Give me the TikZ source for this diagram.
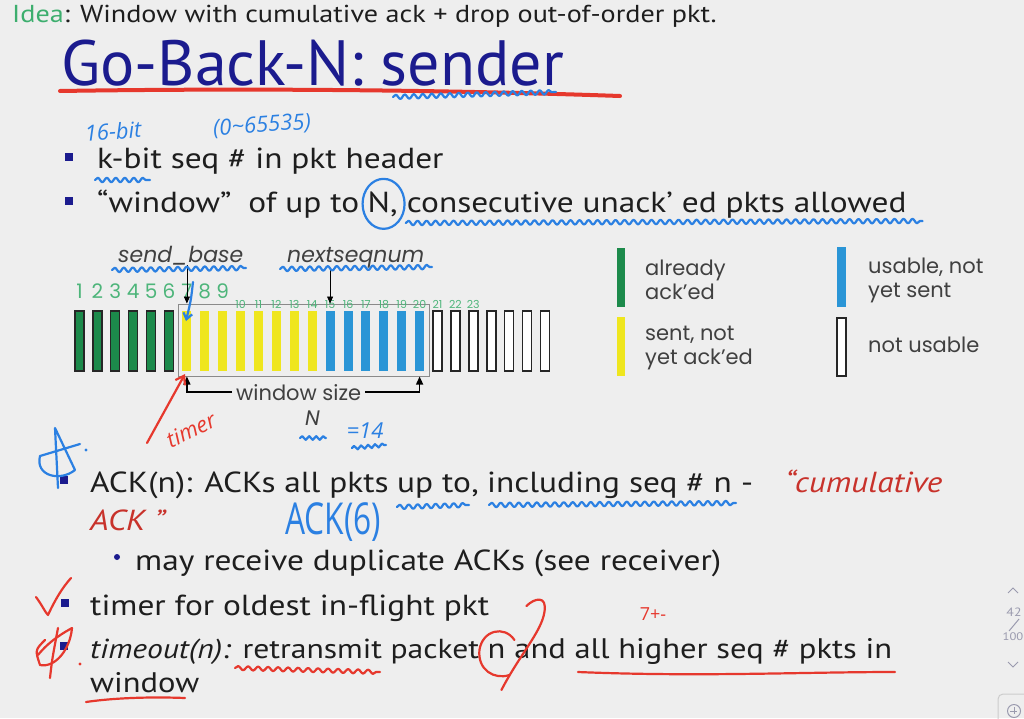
\documentclass[tikz,border=0pt]{standalone}
\usepackage{fontspec}
\setmainfont{PT Sans}[FakeStretch=1.15]
\newfontfamily\titlefont{PT Sans}
\newfontfamily\cg{Poppins}
\newfontfamily\hand{Open Sans}
\usetikzlibrary{arrows.meta,decorations.pathmorphing,calc}
\definecolor{bg}{HTML}{EEEEEE}
\definecolor{txt}{HTML}{1E1E1E}
\definecolor{ideagreen}{HTML}{3DAE6E}
\definecolor{navy}{HTML}{1B1B8E}
\definecolor{cumred}{HTML}{C8322B}
\definecolor{hred}{HTML}{E6382D}
\definecolor{hblue}{HTML}{2B80E2}
\definecolor{bgreen}{HTML}{1C8A4B}
\definecolor{byellow}{HTML}{EFE61E}
\definecolor{bblue}{HTML}{2A95D6}
\definecolor{ngreen}{HTML}{4DB57A}
\definecolor{lgtxt}{HTML}{404040}
\definecolor{wingray}{HTML}{8A8A8A}
\definecolor{pgray}{HTML}{9A9AAE}
\begin{document}
\begin{tikzpicture}[x=1pt,y=-1pt,
 body/.style={anchor=base west,inner sep=0pt,text=txt,font=\fontsize{29}{34}\selectfont},
 bodys/.style={body,font=\fontsize{28.3}{34}\selectfont},
 sqb/.style={fill=navy,minimum size=8pt,inner sep=0pt},
 bar/.style={minimum width=9pt,minimum height=60pt,inner sep=0pt,line width=1.3pt},
 gbar/.style={bar,fill=bgreen,draw=black!85},
 ybar/.style={bar,fill=byellow},
 bbar/.style={bar,fill=bblue},
 wbar/.style={bar,fill=white,draw=black!85,line width=1.6pt},
 bignum/.style={text=ngreen,font=\cg\fontsize{20}{20}\selectfont,inner sep=0pt,anchor=base},
 smallnum/.style={text=ngreen,font=\cg\fontsize{11}{11}\selectfont,inner sep=0pt,anchor=base},
 lg/.style={anchor=base west,inner sep=0pt,text=lgtxt,font=\cg\fontsize{21}{21}\selectfont},
 lgi/.style={lg,font=\cg\itshape\fontsize{22}{22}\selectfont},
 hb/.style={draw=hblue,line width=2.2pt,line cap=round,line join=round},
 hr/.style={draw=hred,line width=2.2pt,line cap=round,line join=round},
 wavy/.style={decorate,decoration={snake,amplitude=2.2pt,segment length=9pt}},
 htext/.style={inner sep=0pt,font=\hand\itshape\fontsize{22}{22}\selectfont},
 tip/.style={-{Triangle[width=7pt,length=8pt]}}
]
\fill[bg] (0,0) rectangle (1024,718);
\useasboundingbox (0,0) rectangle (1024,718);

% ---- slide text ----
\node[body,font=\fontsize{24.5}{30}\selectfont] (idea) at (12,22) {\textcolor{ideagreen}{Idea}: Window with cumulative ack + drop out-of-order pkt.};
\node[body,text=navy,font=\titlefont\fontsize{64}{70}\selectfont] (title) at (61,85) {Go-Back-N: sender};

\node[sqb] (s1) at (69,157) {};
\node[body] (l1) at (97,168) {k-bit seq \# in pkt header};
\node[sqb] (s2) at (69,201) {};
\node[body] (l2a) at (97,212) {“window”\hspace{8pt} of up to};
\node[body] (l2N) at ($(l2a.base east)+(8,0)$) {N,};
\node[body] (l2b) at (l2N.base east) {\ consecutive unack’ ed pkts allowed};

% ---- window diagram ----
\node[draw=wingray,line width=1pt,minimum width=251pt,minimum height=72pt,inner sep=0pt] (win) at (303.5,340) {};
\foreach \i in {1,...,6} \node[gbar] (b\i) at ({79.5+(\i-1)*17.9},341) {};
\foreach \i in {7,...,14} \node[ybar] (b\i) at ({79.5+(\i-1)*17.9},341) {};
\foreach \i in {15,...,20} \node[bbar] (b\i) at ({79.5+(\i-1)*17.9},341) {};
\foreach \i in {21,...,27} \node[wbar] (b\i) at ({79.5+(\i-1)*17.9},341) {};
\foreach \i in {1,...,9} \node[bignum] (n\i) at ({79.5+(\i-1)*17.9},298) {\i};
\foreach \i in {10,...,23} \node[smallnum] (n\i) at ({79.5+(\i-1)*17.9},308) {\i};

\node[lgi] (sb) at (118,262) {send\_base};
\node[lgi] (nsn) at (287,262) {nextseqnum};
\draw[-{Triangle[width=6pt,length=7pt]},line width=0.8pt] (b7 |- sb.south) -- (b7 |- win.north);
\draw[-{Triangle[width=6pt,length=7pt]},line width=0.8pt] (b15 |- nsn.south) -- (b15 |- win.north);

\node[lg] (wsz) at (236,400) {window size};
\draw[tip,line width=1.3pt] ([xshift=-4pt]wsz.west) -| (b7 |- win.south);
\draw[tip,line width=1.3pt] ([xshift=4pt]wsz.east) -| (b20 |- win.south);
\node[lgi,font=\cg\itshape\fontsize{21}{21}\selectfont] (N) at (305,425) {N};

% ---- legend ----
\node[bar,fill=bgreen,minimum width=8pt,minimum height=59pt] (lgg) at (621,277.5) {};
\node[bar,fill=byellow,minimum width=8pt,minimum height=59pt] (lgy) at (621,346.5) {};
\node[bar,fill=bblue,minimum width=9pt,minimum height=60pt] (lgb) at (841.5,277) {};
\node[wbar,minimum width=9pt,minimum height=58pt] (lgw) at (841.5,347) {};
\node[lg] (t1a) at (645,275) {already};
\node[lg] (t1b) at (645,299) {ack’ed};
\node[lg] (t2a) at (645,340) {sent, not};
\node[lg] (t2b) at (645,364) {yet ack’ed};
\node[lg] (t3a) at (868,273) {usable, not};
\node[lg] (t3b) at (868,297) {yet sent};
\node[lg] (t4) at (868,352) {not usable};

% ---- lower bullets ----
\node[sqb] (s3) at (64,480) {};
\node[body] (l3a) at (90,492) {ACK(n): ACKs all pkts};
\node[body] (l3up) at ($(l3a.base east)+(8,0)$) {up to};
\node[body] (l3cm) at (l3up.base east) {,};
\node[body] (l3inc) at ($(l3cm.base east)+(8,0)$) {including seq \# n};
\node[body] (l3d) at (l3inc.base east) {\ -};
\node[body,text=cumred,font=\itshape\fontsize{29}{34}\selectfont] (l3b) at (785,492) {“cumulative};
\node[body,text=cumred,font=\itshape\fontsize{29}{34}\selectfont] (l3c) at (90,530) {ACK ”};
\node[circle,fill=navy,minimum size=6pt,inner sep=0pt] (s4) at (117,557) {};
\node[body] (l4) at (135,570) {may receive duplicate ACKs (see receiver)};
\node[sqb] (s5) at (65,603) {};
\node[body] (l5) at (90,615) {timer for oldest in-flight pkt};
\node[sqb] (s6) at (64,646) {};
\node[bodys,font=\fontsize{27.5}{34}\selectfont] (l6a) at (90,658) {\textit{timeout(n):} retransmit packet};
\node[bodys] (l6n) at ($(l6a.base east)+(8,0)$) {n};
\node[bodys] (l6b) at (l6n.base east) {\ and all higher seq \# pkts in};
\node[bodys] (l7) at (90,692) {window};

% ---- handwritten annotations ----
\draw[hr,line width=4pt] (60,91) .. controls (250,88) and (450,90) .. (620,96);
\draw[hb,wavy] (393,97) -- (556,92);
\node[htext,text=hblue,rotate=4] (h16) at (113,131) {16-bit};
\node[htext,text=hblue,rotate=4] (hrng) at (262,126) {(0\textasciitilde 65535)};
\draw[hb,wavy] (95,180) -- (150,180);
\draw[hb] ([xshift=1pt]l2N.center) ellipse [x radius=21pt,y radius=25pt];
\draw[hb,wavy] ($(l2b.base west)+(8,11)$) -- ($(l2b.base east)+(16,9)$);
\draw[hb,wavy] (112,270) -- (246,268);
\draw[hb,wavy] (280,269) -- (432,267);
\draw[hb,-{Straight Barb[length=6pt,width=9pt]}] (193,282) .. controls (191,300) .. (186,321);
\draw[hr,-{Straight Barb[length=8pt,width=11pt]}] (147,443) -- (185,374);
\node[htext,text=hred,rotate=25] (htimer) at (191,430) {timer};
\node[htext,text=hblue] (h14) at (365,431) {=14};
\draw[hb,wavy,decoration={amplitude=1.8pt,segment length=7pt}] (300,438) -- (326,438);
\draw[hb,wavy,decoration={amplitude=1.8pt,segment length=7pt}] (352,448) -- (386,445);
\draw[hb] (58,488) -- (55,428) -- (75,470) .. controls (60,482) and (35,476) .. (40,456) -- (80,444);
\fill[hblue] (86,450) circle (1.6pt);
\node[htext,text=hblue,font=\hand\fontsize{44}{44}\selectfont] (hack) at (333,522) {\scalebox{0.72}[1]{ACK(6)}};
\draw[hb,wavy] ($(l3up.base west)+(0,15)$) -- ($(l3up.base east)+(-2,13)$);
\draw[hb,wavy] ($(l3inc.base west)+(2,13)$) -- ($(l3inc.base east)+(4,11)$);
\draw[hr] (36,597) .. controls (42,605) and (45,612) .. (48,615) .. controls (55,600) and (62,588) .. (71,578);
\draw[hr] (50,678) .. controls (52,660) .. (58,628);
\draw[hr] (38,655) .. controls (50,640) and (65,632) .. (72,628) .. controls (70,650) and (55,668) .. (40,665) .. controls (35,650) .. (45,640);
\fill[hred] (80,664) circle (1.6pt);
\begin{scope}[shift={($(l6n.base)+(5,-6)$)}]
\draw[hr] (13,-12) .. controls (3,-27) and (-19,-22) .. (-22,-2) .. controls (-24,18) and (-7,28) .. (8,23);
\draw[hr] (25,-46) .. controls (33,-54) and (46,-57) .. (43,-40) .. controls (40,-20) and (18,3) .. (0,38);
\end{scope}
\node[htext,text=hred,font=\hand\fontsize{18}{18}\selectfont] (h7) at (653,614) {7+-};
\draw[hr,wavy,decoration={amplitude=2pt,segment length=10pt}] (235,668) -- (380,672);
\draw[hr] (578,672) .. controls (700,677) and (800,672) .. (895,672);
\draw[hr] (86,702) .. controls (120,697) and (160,697) .. (185,698);

% ---- page indicator ----
\draw[pgray,line width=1pt] (1008,593) -- (1013,588) -- (1018,593);
\node[text=pgray,font=\fontsize{12}{12}\selectfont,inner sep=0pt] (pg42) at (1014,612) {42};
\draw[pgray,line width=1pt] (1019,619) -- (1009,631);
\node[text=pgray,font=\fontsize{11}{12}\selectfont,inner sep=0pt] (pg100) at (1013,637) {100};
\draw[pgray,line width=1pt] (1008,662) -- (1013,667) -- (1018,662);
\draw[black!20,line width=1pt,rounded corners=5pt] (998,694) rectangle (1034,740);
\node[draw=pgray,circle,line width=1pt,minimum size=13pt,inner sep=0pt] (zoomb) at (1014,711) {};
\draw[pgray,line width=1pt] (zoomb.west) ++(3,0) -- ++(7,0);
\draw[pgray,line width=1pt] (zoomb.north) ++(0,3) -- ++(0,7);
\end{tikzpicture}
\end{document}
